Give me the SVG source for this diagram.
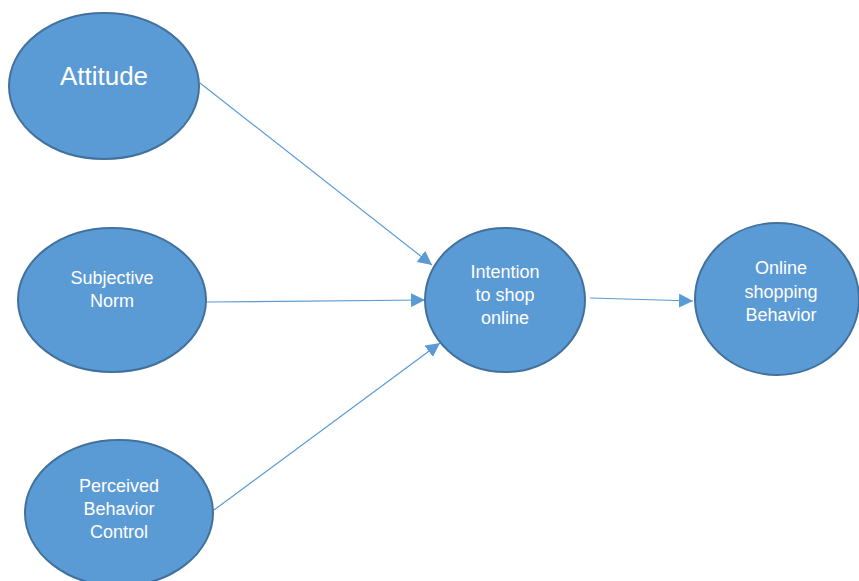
<svg xmlns="http://www.w3.org/2000/svg" width="859" height="581" viewBox="0 0 859 581">
<style>
.n{fill:#5B9BD5;stroke:#41719C;stroke-width:2}
.t{fill:#fff;font-family:"Liberation Sans",Arial,sans-serif;font-size:18px;text-anchor:middle}
.c{stroke:#5B9BD5;stroke-width:1.2;fill:none;marker-end:url(#ah)}
</style>
<defs>
<marker id="ah" viewBox="0 0 10 10" refX="10" refY="5" markerWidth="14" markerHeight="14" markerUnits="userSpaceOnUse" orient="auto">
<path d="M0,0 L10,5 L0,10 z" fill="#5B9BD5"/>
</marker>
</defs>
<rect width="859" height="581" fill="#fff"/>
<g id="connectors">
<line class="c" x1="200" y1="83" x2="432" y2="265"/>
<line class="c" x1="207" y1="302" x2="425" y2="300"/>
<line class="c" x1="214" y1="510" x2="440" y2="343"/>
<line class="c" x1="590" y1="298" x2="693" y2="301"/>
</g>
<g id="attitude">
<ellipse class="n" cx="104" cy="86" rx="95" ry="73"/>
<text class="t" x="104" y="85" style="font-size:26px">Attitude</text>
</g>
<g id="subjective-norm">
<ellipse class="n" cx="112" cy="300" rx="94" ry="72"/>
<text class="t" x="112" y="284">Subjective</text>
<text class="t" x="112" y="307">Norm</text>
</g>
<g id="perceived-behavior-control">
<ellipse class="n" cx="119" cy="513" rx="94" ry="73"/>
<text class="t" x="119" y="492">Perceived</text>
<text class="t" x="119" y="515">Behavior</text>
<text class="t" x="119" y="538">Control</text>
</g>
<g id="intention">
<ellipse class="n" cx="505" cy="300" rx="80" ry="72"/>
<text class="t" x="505" y="278">Intention</text>
<text class="t" x="505" y="301">to shop</text>
<text class="t" x="505" y="324">online</text>
</g>
<g id="online-shopping-behavior">
<ellipse class="n" cx="777" cy="299" rx="82" ry="76"/>
<text class="t" x="781" y="274">Online</text>
<text class="t" x="781" y="298">shopping</text>
<text class="t" x="781" y="321">Behavior</text>
</g>
</svg>
